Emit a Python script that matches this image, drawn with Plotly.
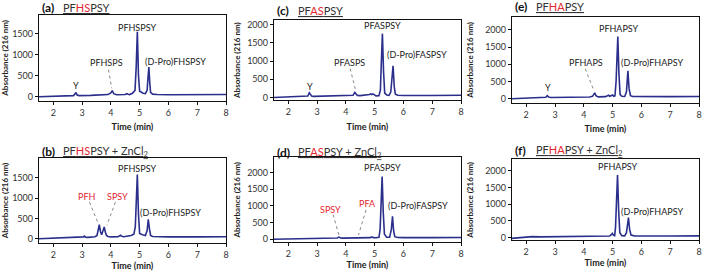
import plotly.graph_objects as go

W, H = 709, 273
FONT = "Lato"
LINE = "#2b2f8c"
RED = "#e3262f"

# ---------------- data ----------------
t_a = [1.5, 2.0, 2.2, 2.4, 2.7, 2.75, 2.79, 2.83, 2.9, 3.3, 3.7, 3.9, 4.0, 4.05, 4.1, 4.2, 4.5, 4.56,
       4.6, 4.65, 4.75, 4.84, 4.88, 4.92, 4.96, 5.0, 5.05, 5.12, 5.2, 5.26, 5.29, 5.32, 5.35, 5.38,
       5.45, 5.6, 6.0, 7.0, 8.0]
abs_a = [0, 10, 30, 20, 25, 60, 100, 40, 25, 30, 35, 50, 90, 145, 70, 45, 50, 70, 60, 50, 80, 150,
         700, 1540, 500, 130, 110, 80, 70, 150, 450, 700, 350, 100, 60, 50, 45, 45, 50]

t_b = [1.5, 2.0, 2.15, 2.3, 2.4, 2.5, 3.0, 3.05, 3.08, 3.12, 3.2, 3.45, 3.52, 3.56, 3.6, 3.64, 3.68,
       3.73, 3.77, 3.81, 3.85, 3.9, 4.0, 4.25, 4.3, 4.34, 4.38, 4.45, 4.7, 4.8, 4.85, 4.88, 4.92,
       4.96, 5.0, 5.1, 5.2, 5.26, 5.3, 5.34, 5.38, 5.45, 5.6, 6.0, 7.0, 8.0]
abs_b = [0, 10, 30, 20, 35, 25, 30, 45, 65, 40, 35, 50, 80, 200, 345, 180, 100, 200, 290, 160, 80,
         55, 45, 50, 70, 85, 60, 50, 80, 110, 300, 900, 1580, 600, 130, 100, 80, 200, 480, 250, 80,
         55, 50, 45, 45, 50]

t_c = [1.5, 2.0, 2.2, 2.5, 2.68, 2.73, 2.77, 2.82, 2.9, 3.5, 3.72, 3.78, 3.84, 4.0, 4.25, 4.31,
       4.35, 4.4, 4.5, 4.75, 4.82, 4.86, 4.9, 4.94, 4.98, 5.05, 5.15, 5.2, 5.23, 5.27, 5.31, 5.35,
       5.42, 5.5, 5.56, 5.6, 5.64, 5.68, 5.72, 5.8, 6.0, 7.0, 8.0]
abs_c = [0, 10, 30, 25, 40, 130, 80, 35, 30, 35, 45, 50, 40, 40, 60, 140, 110, 55, 50, 60, 80, 95,
         80, 100, 70, 45, 50, 200, 900, 1750, 700, 120, 70, 60, 150, 600, 870, 300, 90, 60, 55, 55, 60]

t_d = [1.5, 2.0, 2.2, 2.5, 2.95, 3.0, 3.05, 3.5, 3.7, 3.76, 3.82, 3.9, 4.3, 4.37, 4.43, 4.6, 4.85,
       4.9, 4.95, 5.05, 5.15, 5.19, 5.22, 5.26, 5.3, 5.34, 5.42, 5.52, 5.58, 5.62, 5.66, 5.7, 5.8,
       6.0, 7.0, 8.0]
abs_d = [0, 10, 25, 20, 25, 35, 25, 30, 40, 65, 40, 35, 35, 45, 35, 40, 50, 75, 50, 45, 60, 300,
         1000, 1880, 800, 150, 60, 60, 300, 690, 250, 80, 55, 50, 50, 55]

t_e = [1.5, 2.0, 2.2, 2.6, 2.68, 2.73, 2.78, 2.85, 3.5, 3.78, 3.83, 3.88, 4.2, 4.3, 4.34, 4.38,
       4.42, 4.5, 4.75, 4.82, 4.86, 4.9, 4.95, 5.0, 5.04, 5.08, 5.12, 5.15, 5.18, 5.22, 5.26, 5.32,
       5.42, 5.48, 5.53, 5.57, 5.62, 5.7, 6.0, 7.0, 8.0]
abs_e = [0, 10, 30, 30, 45, 90, 50, 35, 40, 45, 60, 45, 50, 70, 120, 170, 90, 55, 60, 80, 100, 70,
         80, 110, 70, 80, 500, 1200, 1810, 700, 120, 70, 65, 200, 810, 300, 90, 65, 60, 60, 65]

t_f = [1.5, 2.0, 2.2, 2.5, 3.5, 3.83, 3.88, 4.5, 4.9, 4.95, 4.99, 5.03, 5.07, 5.1, 5.14, 5.17, 5.21,
       5.25, 5.32, 5.42, 5.48, 5.52, 5.55, 5.59, 5.64, 5.75, 6.0, 7.0, 8.0]
abs_f = [-20, 10, 30, 25, 30, 45, 35, 40, 50, 90, 130, 70, 60, 300, 1100, 1880, 800, 150, 60, 55,
         150, 450, 600, 250, 80, 55, 50, 50, 55]

panel_letters = ["(a)", "(c)", "(e)", "(b)", "(d)", "(f)"]
panel_titles = [
    "PF<span style='color:%s'>HS</span>PSY" % RED,
    "PF<span style='color:%s'>AS</span>PSY" % RED,
    "PF<span style='color:%s'>HA</span>PSY" % RED,
    "PF<span style='color:%s'>HS</span>PSY + ZnCl<sub>2</sub>" % RED,
    "PF<span style='color:%s'>AS</span>PSY + ZnCl<sub>2</sub>" % RED,
    "PF<span style='color:%s'>HA</span>PSY + ZnCl<sub>2</sub>" % RED,
]
series = [(t_a, abs_a), (t_c, abs_c), (t_e, abs_e), (t_b, abs_b), (t_d, abs_d), (t_f, abs_f)]

# peak labels: (text, x, y, colour)
labels = [
    [("Y", 2.8, 270, "k"), ("PFHSPS", 3.86, 800, "k"), ("PFHSPSY", 4.91, 1650, "k"),
     ("(D-Pro)FHSPSY", 6.24, 840, "k")],
    [("Y", 2.75, 300, "k"), ("PFASPS", 4.11, 950, "k"), ("PFASPSY", 5.28, 1960, "k"),
     ("(D-Pro)FASPSY", 6.47, 1170, "k")],
    [("Y", 2.74, 330, "k"), ("PFHAPS", 4.07, 1060, "k"), ("PFHAPSY", 5.22, 2050, "k"),
     ("(D-Pro)FHAPSY", 6.36, 1060, "k")],
    [("PFH", 3.17, 1050, "r"), ("SPSY", 4.24, 1050, "r"), ("PFHSPSY", 4.91, 1740, "k"),
     ("(D-Pro)FHSPSY", 6.07, 650, "k")],
    [("SPSY", 3.48, 890, "r"), ("PFA", 4.76, 1060, "r"), ("PFASPSY", 5.28, 2150, "k"),
     ("(D-Pro)FASPSY", 6.52, 1010, "k")],
    [("PFHAPSY", 5.17, 2120, "k"), ("(D-Pro)FHAPSY", 6.36, 780, "k")],
]
# dotted leader lines: (x0, y0, x1, y1)
leaders = [
    [(3.92, 640, 4.03, 200)],
    [(4.15, 790, 4.33, 230)],
    [(4.05, 870, 4.34, 260)],
    [(3.26, 900, 3.56, 380), (4.16, 900, 3.86, 330)],
    [(3.56, 740, 3.76, 120), (4.7, 880, 4.44, 130)],
    [],
]

# ---------------- layout geometry (pixels) ----------------
boxes = [  # x0, x1, y0(top), y1(bottom)
    (39, 227, 14, 101), (275, 463, 19, 100.5), (514, 702, 16, 103),
    (39, 227, 159, 244.5), (275, 463, 158, 244), (514, 702, 160, 242),
]
yranges = [(-100, 1940), (-80, 2130), (-120, 2380), (-100, 1980), (-90, 2460), (-80, 2350)]
ytickmax = [1500, 2000, 2000, 1500, 2000, 2000]
title_y = [7, 10, 6, 152, 153, 151]
xtitle_standoff = [7, 7, 7, 1, 1, 1]
ytitle_standoff = [5, 5, 10, 5, 5, 10]

fig = go.Figure()
annotations = []
shapes = []

for i in range(6):
    ax = "" if i == 0 else str(i + 1)
    x0, x1, y0, y1 = boxes[i]
    t, v = series[i]
    fig.add_trace(go.Scatter(x=t, y=v, mode="lines", line=dict(color=LINE, width=1.6),
                             xaxis="x" + ax, yaxis="y" + ax, showlegend=False,
                             hoverinfo="skip"))
    common = dict(showline=True, linecolor="#111", linewidth=1, mirror=True, ticks="outside",
                  ticklen=3, tickcolor="#111", showgrid=False, zeroline=False,
                  tickfont=dict(family=FONT, size=9, color="#333"))
    fig.layout["xaxis" + ax] = dict(
        domain=[x0 / W, x1 / W], range=[1.5, 8], anchor="y" + ax,
        tickvals=[2, 3, 4, 5, 6, 7, 8],
        title=dict(text="<b>Time (min)</b>", font=dict(family=FONT, size=9, color="#222"),
                   standoff=xtitle_standoff[i]),
        **common)
    fig.layout["yaxis" + ax] = dict(
        domain=[1 - y1 / H, 1 - y0 / H], range=list(yranges[i]), anchor="x" + ax,
        tickvals=list(range(0, ytickmax[i] + 1, 500)),
        title=dict(text="<b>Absorbance (216 nm)</b>",
                   font=dict(family=FONT, size=8, color="#222"), standoff=ytitle_standoff[i]),
        **common)
    # panel title
    annotations.append(dict(text="<b>" + panel_letters[i] + "</b>", xref="paper", yref="paper",
                            x=(x0 + 1) / W, y=1 - title_y[i] / H, xanchor="left", yanchor="middle",
                            showarrow=False, font=dict(family=FONT, size=12, color="#111")))
    annotations.append(dict(text=panel_titles[i], xref="paper", yref="paper",
                            x=(x0 + 22) / W, y=1 - title_y[i] / H, xanchor="left",
                            yanchor="middle", showarrow=False,
                            font=dict(family=FONT, size=11, color="#333", lineposition="under")))
    for (txt, lx, ly, col) in labels[i]:
        annotations.append(dict(text=txt, x=lx, y=ly, xref="x" + ax, yref="y" + ax,
                                showarrow=False, xanchor="center", yanchor="middle",
                                font=dict(family=FONT, size=9,
                                          color=RED if col == "r" else "#222")))
    for (lx0, ly0, lx1, ly1) in leaders[i]:
        shapes.append(dict(type="line", xref="x" + ax, yref="y" + ax, x0=lx0, y0=ly0,
                           x1=lx1, y1=ly1, line=dict(color="#888", width=1, dash="dot")))

fig.update_layout(width=W, height=H, margin=dict(l=0, r=0, t=0, b=0),
                  paper_bgcolor="white", plot_bgcolor="white",
                  annotations=annotations, shapes=shapes,
                  font=dict(family=FONT))
fig.write_html("out.html", config={"displayModeBar": False},
               post_script="document.body.style.margin='0';")
